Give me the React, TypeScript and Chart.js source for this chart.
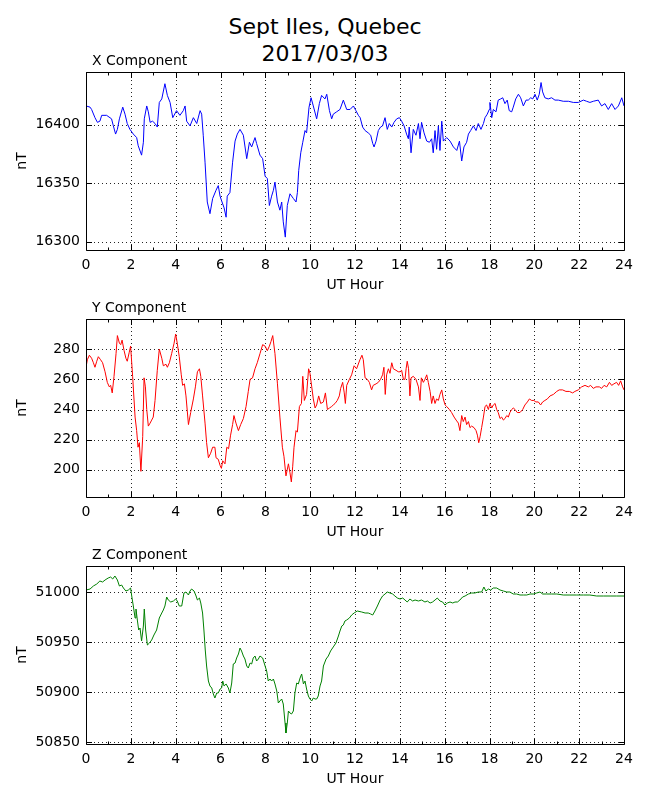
import React, { useRef, useEffect } from 'react';
import { Chart, registerables } from 'chart.js';

Chart.register(...registerables);
Chart.defaults.font.family = '"DejaVu Sans", sans-serif';

// x axis (UT hour)
const hourTicks = [0, 2, 4, 6, 8, 10, 12, 14, 16, 18, 20, 22, 24];
const minorHours = [1, 3, 5, 7, 9, 11, 13, 15, 17, 19, 21, 23];

// X component (nT)
const xHours = [
  0.00, 0.18, 0.25, 0.40, 0.51, 0.62, 0.70, 0.92, 1.14, 1.22,
  1.32, 1.40, 1.49, 1.64, 1.74, 1.84, 1.96, 2.11, 2.26, 2.33,
  2.48, 2.56, 2.60, 2.71, 2.78, 2.86, 2.97, 3.08, 3.18, 3.27,
  3.38, 3.52, 3.63, 3.75, 3.87, 4.04, 4.19, 4.34, 4.42, 4.49,
  4.64, 4.79, 4.94, 5.09, 5.16, 5.23, 5.31, 5.41, 5.53, 5.65,
  5.80, 5.90, 5.98, 6.05, 6.16, 6.25, 6.30, 6.42, 6.54, 6.65,
  6.75, 6.87, 7.02, 7.17, 7.29, 7.39, 7.54, 7.61, 7.76, 7.88,
  7.99, 8.09, 8.18, 8.28, 8.36, 8.43, 8.54, 8.65, 8.73, 8.80,
  8.89, 8.98, 9.10, 9.25, 9.37, 9.43, 9.49, 9.58, 9.67, 9.77,
  9.84, 9.95, 10.04, 10.14, 10.29, 10.41, 10.51, 10.66, 10.74, 10.86,
  10.96, 11.03, 11.18, 11.33, 11.48, 11.63, 11.78, 11.93,
  12.04, 12.15, 12.23, 12.34, 12.45, 12.59, 12.70, 12.79, 12.85, 12.94,
  13.04, 13.14, 13.23, 13.34, 13.44, 13.53, 13.64, 13.74, 13.86, 13.98,
  14.08, 14.19, 14.30, 14.38, 14.42, 14.50, 14.60, 14.72, 14.83, 14.90,
  14.97, 15.08, 15.20, 15.32, 15.42, 15.49, 15.57, 15.64, 15.72, 15.79,
  15.87, 15.94, 16.09, 16.24, 16.39, 16.54, 16.66, 16.76, 16.86, 16.98,
  17.06, 17.16, 17.28, 17.40, 17.50, 17.62, 17.73, 17.80, 17.90, 17.99,
  18.02, 18.10, 18.17, 18.29, 18.39, 18.50, 18.59, 18.69, 18.79, 18.88,
  18.99, 19.06, 19.17, 19.29, 19.39, 19.51, 19.63, 19.73, 19.84, 19.93,
  20.03, 20.13, 20.22, 20.30, 20.37, 20.47, 20.62, 20.77, 20.92, 21.07,
  21.29, 21.52, 21.74, 21.96, 22.19, 22.33, 22.48, 22.63, 22.85, 23.00,
  23.15, 23.30, 23.45, 23.60, 23.75, 23.90, 24.00,
];
const xValues = [
  16416, 16415, 16413, 16406, 16402, 16403, 16408, 16408, 16405, 16399,
  16392, 16396, 16405, 16415, 16409, 16401, 16396, 16392, 16389, 16382,
  16374, 16385, 16405, 16416, 16411, 16402, 16403, 16401, 16398, 16419,
  16422, 16435, 16425, 16419, 16406, 16412, 16408, 16412, 16416, 16403,
  16399, 16406, 16401, 16412, 16409, 16391, 16368, 16334, 16324, 16337,
  16344, 16348, 16339, 16335, 16329, 16321, 16339, 16342, 16368, 16386,
  16392, 16396, 16391, 16371, 16385, 16381, 16389, 16384, 16374, 16371,
  16356, 16354, 16331, 16339, 16344, 16351, 16334, 16327, 16334, 16317,
  16304, 16331, 16341, 16337, 16334, 16342, 16361, 16376, 16385, 16395,
  16393, 16415, 16423, 16416, 16405, 16418, 16425, 16422, 16426, 16412,
  16405, 16409, 16411, 16413, 16421, 16413, 16413, 16416,
  16412, 16408, 16406, 16398, 16395, 16393, 16391, 16384, 16381, 16386,
  16395, 16398, 16399, 16406, 16396, 16401, 16398, 16402, 16405, 16406,
  16403, 16399, 16392, 16388, 16398, 16376, 16396, 16391, 16401, 16388,
  16402, 16393, 16386, 16385, 16388, 16376, 16395, 16379, 16399, 16378,
  16403, 16386, 16389, 16386, 16381, 16378, 16386, 16369, 16381, 16385,
  16392, 16395, 16399, 16395, 16401, 16396, 16401, 16406, 16409, 16413,
  16419, 16406, 16413, 16411, 16421, 16422, 16423, 16418, 16421, 16412,
  16411, 16415, 16422, 16426, 16423, 16416, 16421, 16421, 16423, 16422,
  16426, 16421, 16426, 16436, 16428, 16423, 16422, 16423, 16421, 16421,
  16420, 16420, 16419, 16419, 16421, 16420, 16419, 16420, 16421, 16416,
  16418, 16413, 16418, 16413, 16416, 16423, 16416,
];
const xTicksNT = [16300, 16350, 16400];

// Y component (nT)
const yHours = [
  0.00, 0.06, 0.15, 0.25, 0.33, 0.40, 0.48, 0.55, 0.65, 0.74,
  0.85, 0.95, 1.04, 1.10, 1.17, 1.25, 1.34, 1.40, 1.49, 1.55,
  1.61, 1.70, 1.78, 1.84, 1.93, 1.99, 2.08, 2.19, 2.26, 2.32,
  2.38, 2.45, 2.53, 2.59, 2.65, 2.71, 2.78, 2.86, 2.93, 3.00,
  3.08, 3.18, 3.27, 3.38, 3.45, 3.57, 3.63, 3.72, 3.82, 3.93,
  4.00, 4.07, 4.16, 4.25, 4.31, 4.39, 4.46, 4.57, 4.67, 4.79,
  4.88, 4.97, 5.06, 5.12, 5.20, 5.31, 5.38, 5.46, 5.56, 5.65,
  5.75, 5.80, 5.90, 5.98, 6.04, 6.10, 6.20, 6.28, 6.36, 6.45,
  6.54, 6.60, 6.69, 6.80, 6.90, 7.02, 7.14, 7.24, 7.32, 7.43,
  7.54, 7.64, 7.76, 7.88, 7.99, 8.09, 8.18, 8.25, 8.33, 8.43,
  8.54, 8.65, 8.76, 8.83, 8.92, 9.03, 9.10, 9.16, 9.22, 9.28,
  9.37, 9.43, 9.52, 9.61, 9.67, 9.74, 9.84, 9.93, 9.99, 10.07,
  10.14, 10.22, 10.29, 10.38, 10.47, 10.59, 10.68, 10.77, 10.86, 10.96,
  11.03, 11.11, 11.21, 11.30, 11.36, 11.45, 11.52, 11.57, 11.63, 11.75,
  11.85, 11.96,
  12.07, 12.22, 12.31, 12.37, 12.45, 12.55, 12.64, 12.74, 12.81, 12.94,
  13.04, 13.14, 13.23, 13.29, 13.35, 13.41, 13.49, 13.56, 13.64, 13.71,
  13.83, 13.93, 14.01, 14.08, 14.16, 14.23, 14.28, 14.33, 14.39, 14.45,
  14.50, 14.60, 14.72, 14.83, 14.90, 14.96, 15.05, 15.12, 15.20, 15.27,
  15.35, 15.42, 15.49, 15.57, 15.64, 15.72, 15.79, 15.87, 15.94, 16.02,
  16.09, 16.21, 16.31, 16.42, 16.51, 16.61, 16.68, 16.76, 16.83, 16.91,
  16.98, 17.06, 17.13, 17.20, 17.31, 17.40, 17.46, 17.52, 17.58, 17.65,
  17.73, 17.80, 17.87, 17.95, 18.02, 18.10, 18.17, 18.25, 18.32, 18.39,
  18.47, 18.54, 18.62, 18.69, 18.77, 18.84, 18.91, 18.99, 19.06, 19.14,
  19.24, 19.36, 19.48, 19.58, 19.69, 19.78, 19.88, 19.98, 20.07, 20.18,
  20.28, 20.37, 20.47, 20.58, 20.70, 20.85, 21.00, 21.11, 21.26, 21.41,
  21.56, 21.71, 21.81, 21.96, 22.11, 22.26, 22.41, 22.51, 22.63, 22.75,
  22.90, 23.00, 23.11, 23.23, 23.35, 23.45, 23.55, 23.67, 23.76, 23.85,
  23.94, 24.00,
];
const yValues = [
  268, 273, 276, 274, 271, 268, 272, 275, 273, 271,
  265, 258, 255, 256, 251, 262, 277, 289, 284, 283,
  286, 279, 274, 272, 278, 282, 262, 235, 226, 215,
  218, 199, 222, 261, 255, 240, 229, 231, 233, 235,
  246, 266, 280, 274, 269, 270, 268, 271, 277, 284,
  290, 284, 275, 263, 256, 257, 249, 230, 238, 247,
  255, 265, 267, 262, 249, 231, 218, 208, 211, 215,
  215, 208, 207, 203, 201, 206, 204, 215, 214, 223,
  230, 236, 231, 226, 230, 234, 242, 252, 260, 261,
  267, 271, 277, 283, 282, 279, 282, 285, 289, 277,
  257, 235, 215, 209, 196, 204, 198, 192, 202, 215,
  226, 225, 242, 244, 262, 246, 250, 267, 264, 255,
  247, 241, 243, 249, 244, 245, 251, 240, 241, 242,
  243, 244, 246, 249, 254, 258, 251, 244, 256, 260,
  263, 269,
  267, 273, 276, 273, 261, 260, 258, 253, 256, 257,
  258, 260, 263, 268, 250, 263, 267, 264, 271, 267,
  266, 265, 265, 266, 260, 260, 267, 272, 267, 249,
  261, 262, 260, 255, 246, 261, 258, 260, 263, 258,
  252, 244, 249, 244, 247, 246, 250, 253, 247, 243,
  242, 240, 238, 235, 233, 231, 226, 236, 232, 235,
  230, 232, 228, 229, 228, 226, 223, 218, 222, 228,
  235, 242, 243, 240, 244, 241, 243, 244, 240, 238,
  234, 235, 233, 234, 236, 235, 238, 240, 241, 240,
  238, 238, 240, 243, 245, 247, 246, 246, 245, 245,
  243, 245, 246, 247, 249, 250, 252, 253, 253, 252,
  252, 251, 252, 253, 255, 256, 255, 256, 254, 255,
  255, 254, 256, 255, 258, 256, 257, 258, 256, 259,
  255, 253,
];
const yTicksNT = [200, 220, 240, 260, 280];

// Z component (nT)
const zHours = [
  0.00, 0.18, 0.33, 0.48, 0.62, 0.74, 0.85, 0.99, 1.10, 1.19,
  1.29, 1.40, 1.49, 1.59, 1.67, 1.78, 1.89, 1.99, 2.04, 2.11,
  2.19, 2.23, 2.29, 2.35, 2.41, 2.48, 2.56, 2.60, 2.66, 2.74,
  2.83, 2.93, 3.03, 3.15, 3.27, 3.38, 3.45, 3.52, 3.60, 3.67,
  3.78, 3.90, 4.00, 4.07, 4.16, 4.27, 4.37, 4.46, 4.57, 4.64,
  4.71, 4.82, 4.91, 4.97, 5.06, 5.12, 5.20, 5.26, 5.32, 5.38,
  5.46, 5.53, 5.61, 5.68, 5.75, 5.83, 5.90, 5.98, 6.05, 6.10,
  6.16, 6.25, 6.35, 6.42, 6.50, 6.57, 6.65, 6.72, 6.80, 6.87,
  6.94, 7.02, 7.09, 7.17, 7.24, 7.32, 7.39, 7.46, 7.54, 7.61,
  7.69, 7.76, 7.88, 7.99, 8.06, 8.13, 8.21, 8.28, 8.36, 8.43,
  8.51, 8.58, 8.65, 8.73, 8.80, 8.88, 8.92, 8.98, 9.03, 9.10,
  9.17, 9.25, 9.32, 9.40, 9.47, 9.55, 9.62, 9.70, 9.77, 9.84,
  9.92, 9.99, 10.07, 10.14, 10.22, 10.29, 10.36, 10.44, 10.51, 10.59,
  10.71, 10.81, 10.91, 11.03, 11.15, 11.26, 11.33, 11.41, 11.48, 11.55,
  11.63, 11.75, 11.85, 11.96,
  12.10, 12.30, 12.45, 12.59, 12.70, 12.79, 12.89, 13.00, 13.12, 13.23,
  13.34, 13.44, 13.56, 13.68, 13.78, 13.89, 14.01, 14.13, 14.23, 14.33,
  14.45, 14.57, 14.68, 14.83, 14.97, 15.12, 15.23, 15.35, 15.46, 15.57,
  15.67, 15.79, 15.91, 16.01, 16.12, 16.24, 16.36, 16.46, 16.57, 16.68,
  16.80, 16.91, 17.06, 17.20, 17.35, 17.50, 17.65, 17.75, 17.84, 17.95,
  18.05, 18.17, 18.32, 18.47, 18.62, 18.77, 18.91, 19.06, 19.21, 19.36,
  19.51, 19.66, 19.81, 19.96, 20.10, 20.25, 20.37, 20.55, 20.77, 21.00,
  21.29, 21.59, 21.89, 22.19, 22.48, 22.78, 23.08, 23.38, 23.67, 24.00,
];
const zValues = [
  51002, 51003, 51006, 51008, 51011, 51010, 51012, 51014, 51015, 51013,
  51016, 51012, 51006, 51007, 51004, 51001, 51002, 51004, 50996, 50986,
  50974, 50983, 50972, 50962, 50964, 50951, 50966, 50983, 50962, 50947,
  50949, 50952, 50957, 50962, 50974, 50979, 50982, 50986, 50995, 50992,
  50990, 50991, 50993, 50991, 50986, 50986, 50999, 51000, 50997, 51001,
  51003, 51001, 50996, 50992, 50994, 50989, 50979, 50962, 50942, 50926,
  50911, 50906, 50904, 50898, 50894, 50899, 50899, 50903, 50904, 50911,
  50906, 50908, 50904, 50899, 50909, 50928, 50929, 50934, 50938, 50944,
  50941, 50936, 50933, 50926, 50924, 50929, 50928, 50934, 50936, 50931,
  50933, 50936, 50934, 50926, 50921, 50911, 50913, 50911, 50913, 50908,
  50901, 50889, 50891, 50893, 50888, 50869, 50859, 50869, 50881, 50879,
  50878, 50881, 50899, 50909, 50908, 50914, 50918, 50908, 50911, 50903,
  50896, 50893, 50891, 50894, 50893, 50893, 50896, 50906, 50911, 50926,
  50933, 50936, 50941, 50945, 50949, 50956, 50961, 50966, 50967, 50971,
  50972, 50974, 50977, 50979,
  50981, 50980, 50979, 50979, 50978, 50977, 50981, 50986, 50992, 50996,
  50998, 51000, 50999, 50998, 50996, 50994, 50993, 50994, 50992, 50990,
  50993, 50991, 50992, 50991, 50992, 50990, 50991, 50989, 50990, 50992,
  50994, 50991, 50990, 50987, 50989, 50990, 50989, 50990, 50990, 50992,
  50995, 50996, 50998, 50999, 50999, 51000, 51000, 51005, 51001, 51003,
  51002, 51004, 51004, 51002, 51001, 51000, 51000, 50998, 50998, 50997,
  50997, 50997, 50998, 50998, 50999, 51000, 50998, 50998, 50998, 50998,
  50997, 50997, 50997, 50997, 50997, 50996, 50996, 50996, 50996, 50996,
];
const zTicksNT = [50850, 50900, 50950, 51000];

const PAD_TOP = 40;
const PLOT_H = 178;
const X_AXIS_H = 50;

// matplotlib-like frame: dotted grid, box, inward ticks, labels
const mplFrame = {
  id: 'mplFrame',
  beforeDatasetsDraw(chart: any, _args: any, opts: any) {
    const { ctx, chartArea: a, scales } = chart;
    ctx.save();
    ctx.strokeStyle = 'rgba(0,0,0,0.85)';
    ctx.lineWidth = 1;
    ctx.setLineDash([1, 3]);
    ctx.beginPath();
    hourTicks.forEach((h) => {
      const x = Math.round(scales.x.getPixelForValue(h)) + 0.5;
      ctx.moveTo(x, a.top);
      ctx.lineTo(x, a.bottom);
    });
    opts.yTicks.forEach((v: number) => {
      const y = Math.round(scales.y.getPixelForValue(v)) + 0.5;
      ctx.moveTo(a.left, y);
      ctx.lineTo(a.right, y);
    });
    ctx.stroke();
    ctx.restore();
  },
  afterDraw(chart: any, _args: any, opts: any) {
    const { ctx, chartArea: a, scales } = chart;
    const l = Math.round(a.left) + 0.5;
    const r = Math.round(a.right) + 0.5;
    const t = Math.round(a.top) + 0.5;
    const b = Math.round(a.bottom) + 0.5;
    ctx.save();
    ctx.strokeStyle = '#000';
    ctx.lineWidth = 1;
    ctx.beginPath();
    ctx.rect(l, t, r - l, b - t);
    hourTicks.forEach((h) => {
      const x = Math.round(scales.x.getPixelForValue(h)) + 0.5;
      ctx.moveTo(x, b); ctx.lineTo(x, b - 5.5);
      ctx.moveTo(x, t); ctx.lineTo(x, t + 5.5);
    });
    minorHours.forEach((h) => {
      const x = Math.round(scales.x.getPixelForValue(h)) + 0.5;
      ctx.moveTo(x, b); ctx.lineTo(x, b - 3);
      ctx.moveTo(x, t); ctx.lineTo(x, t + 3);
    });
    opts.yTicks.forEach((v: number) => {
      const y = Math.round(scales.y.getPixelForValue(v)) + 0.5;
      ctx.moveTo(l, y); ctx.lineTo(l + 5.5, y);
      ctx.moveTo(r, y); ctx.lineTo(r - 5.5, y);
    });
    ctx.stroke();

    ctx.fillStyle = '#000';
    ctx.font = '14px "DejaVu Sans"';
    ctx.textAlign = 'left';
    ctx.textBaseline = 'alphabetic';
    ctx.fillText(opts.title, a.left + 6, a.top - 7);

    ctx.textAlign = 'center';
    ctx.textBaseline = 'middle';
    ctx.fillText('UT Hour', (a.left + a.right) / 2, a.bottom + 35);

    ctx.translate(22, (a.top + a.bottom) / 2);
    ctx.rotate(-Math.PI / 2);
    ctx.fillText('nT', 0, 0);
    ctx.restore();
  },
};

interface PanelProps {
  top: number;
  title: string;
  hours: number[];
  values: number[];
  color: string;
  yMin: number;
  yMax: number;
  yTicks: number[];
}

const Panel: React.FC<PanelProps> = ({ top, title, hours, values, color, yMin, yMax, yTicks }) => {
  const chartRef = useRef<HTMLCanvasElement | null>(null);

  useEffect(() => {
    if (!chartRef.current) return;
    const chart = new Chart(chartRef.current, {
      type: 'line',
      data: {
        datasets: [{
          data: hours.map((h, i) => ({ x: h, y: values[i] })),
          borderColor: color,
          borderWidth: 1,
          pointRadius: 0,
          tension: 0,
          fill: false,
        }],
      },
      options: {
        animation: false,
        responsive: true,
        maintainAspectRatio: false,
        layout: { padding: { top: PAD_TOP, right: 26, left: 0, bottom: 0 } },
        plugins: {
          legend: { display: false },
          tooltip: { enabled: false },
          // @ts-ignore
          mplFrame: { title, yTicks },
        },
        scales: {
          x: {
            type: 'linear',
            min: 0,
            max: 24,
            grid: { display: false, drawTicks: false },
            border: { display: false },
            ticks: {
              autoSkip: false,
              maxRotation: 0,
              padding: 7,
              color: '#000',
              font: { size: 14 },
              callback: (v: any) => String(v),
            },
            afterBuildTicks: (s: any) => { s.ticks = hourTicks.map((v) => ({ value: v })); },
            afterFit: (s: any) => { s.height = X_AXIS_H; },
          },
          y: {
            min: yMin,
            max: yMax,
            grid: { display: false, drawTicks: false },
            border: { display: false },
            ticks: {
              padding: 6,
              color: '#000',
              font: { size: 14 },
              callback: (v: any) => String(v),
            },
            afterBuildTicks: (s: any) => { s.ticks = yTicks.map((v) => ({ value: v })); },
            afterFit: (s: any) => { s.width = 86; },
          },
        },
      } as any,
      plugins: [mplFrame],
    });

    return () => {
      chart.destroy();
    };
  }, [title, hours, values, color, yMin, yMax, yTicks]);

  return (
    <div style={{ position: 'absolute', left: 0, top: top - PAD_TOP, width: 650, height: PAD_TOP + PLOT_H + X_AXIS_H }}>
      <canvas ref={chartRef}></canvas>
    </div>
  );
};

const App: React.FC = () => (
  <div style={{ position: 'absolute', left: 0, top: 0, width: 650, height: 800, background: '#fff', overflow: 'hidden' }}>
    <div style={{
      position: 'absolute', left: 0, top: 14, width: 650, textAlign: 'center',
      fontFamily: '"DejaVu Sans", sans-serif', fontSize: 22, lineHeight: '26.5px', color: '#000',
    }}>
      Sept Iles, Quebec<br />2017/03/03
    </div>
    <Panel top={72} title="X Component" hours={xHours} values={xValues} color="#0000ff"
      yMin={16293} yMax={16445} yTicks={xTicksNT} />
    <Panel top={319} title="Y Component" hours={yHours} values={yValues} color="#ff0000"
      yMin={182} yMax={300} yTicks={yTicksNT} />
    <Panel top={566} title="Z Component" hours={zHours} values={zValues} color="#008000"
      yMin={50848} yMax={51026} yTicks={zTicksNT} />
  </div>
);

export default App;
